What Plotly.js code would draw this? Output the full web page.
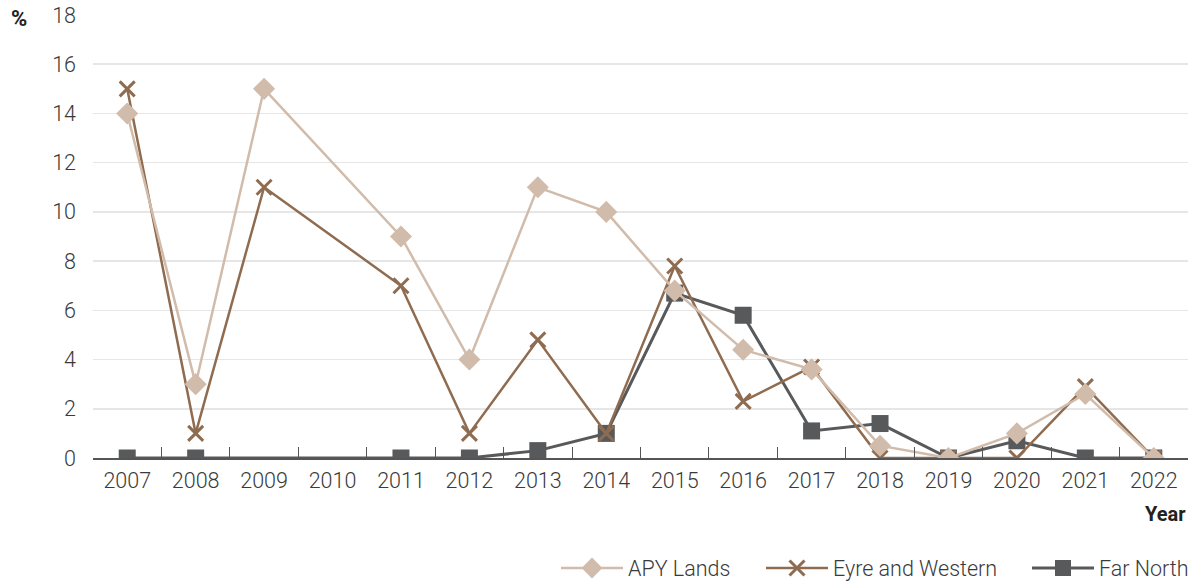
<!DOCTYPE html>
<html>
<head>
<meta charset="utf-8">
<script src="https://cdn.plot.ly/plotly-3.0.1.min.js"></script>
<style>html,body{margin:0;padding:0;background:#fff;}#chart{width:1195px;height:582px;}</style>
</head>
<body>
<div id="chart"></div>
<script>
var years = ["2007","2008","2009","2010","2011","2012","2013","2014","2015","2016","2017","2018","2019","2020","2021","2022"];
var apyLands = [14, 3, 15, null, 9, 4, 11, 10, 6.8, 4.4, 3.6, 0.5, 0, 1, 2.6, 0];
var eyreWestern = [15, 1, 11, null, 7, 1, 4.8, 1, 7.8, 2.3, 3.7, 0, 0, 0, 2.9, 0];
var farNorth = [0, 0, null, null, 0, 0, 0.3, 1, 6.7, 5.8, 1.1, 1.4, 0, 0.7, 0, 0];
var yTicks = [0, 2, 4, 6, 8, 10, 12, 14, 16, 18];
var seriesNames = ["APY Lands", "Eyre and Western", "Far North"];

var font = "Roboto, 'Liberation Sans', Arial, sans-serif";
var tf = {family: font, size: 21.5, color: "#3a3a3a", weight: 300};

var traces = [
  {name: seriesNames[2], legend: "legend3", x: years, y: farNorth, type: "scatter", mode: "lines+markers", connectgaps: true,
   line: {color: "#58595b", width: 3}, marker: {symbol: "square", size: 17, color: "#58595b"}},
  {name: seriesNames[1], legend: "legend2", x: years, y: eyreWestern, type: "scatter", mode: "lines+markers", connectgaps: true,
   line: {color: "#8f6c50", width: 2.5}, marker: {symbol: "x-thin", size: 15, color: "#8f6c50", line: {color: "#8f6c50", width: 3}}},
  {name: seriesNames[0], legend: "legend", x: years, y: apyLands, type: "scatter", mode: "lines+markers", connectgaps: true,
   line: {color: "#d1bcab", width: 2.5}, marker: {symbol: "diamond", size: 17, color: "#d1bcab"}}
];

function leg(xpx) {
  return {orientation: "h", xref: "container", yref: "container", x: xpx / 1195, xanchor: "left",
          y: 0.024, yanchor: "middle", font: tf, itemwidth: 62, bgcolor: "rgba(0,0,0,0)"};
}

var layout = {
  width: 1195, height: 582,
  margin: {l: 93, r: 7, t: 15, b: 124, autoexpand: false},
  paper_bgcolor: "#fff", plot_bgcolor: "#fff",
  font: tf,
  showlegend: true,
  legend: leg(556),
  legend2: leg(761),
  legend3: leg(1027),
  xaxis: {type: "category", categoryorder: "array", categoryarray: years, range: [-0.5, 15.5], automargin: false,
          showline: true, linecolor: "#555555", linewidth: 1.5, ticks: "inside", ticklen: 11, tickcolor: "#555555",
          tickson: "boundaries", showgrid: false, zeroline: false, tickfont: tf, ticklabelstandoff: 3},
  yaxis: {range: [0, 18], tickvals: yTicks, showgrid: true, gridcolor: "#e6e6e6", gridwidth: 1.5, automargin: false,
          showline: false, zeroline: false, ticks: "", ticklabelstandoff: 16, tickfont: tf},
  annotations: [
    {text: "<b>%</b>", xref: "paper", yref: "paper", x: -0.068, y: 0.992, xanchor: "center", yanchor: "middle",
     showarrow: false, font: {family: font, size: 22, color: "#222222"}},
    {text: "<b>Year</b>", xref: "paper", yref: "paper", x: 1, y: -0.126, xanchor: "right", yanchor: "middle",
     showarrow: false, font: {family: font, size: 20, color: "#222222"}}
  ]
};

Plotly.newPlot("chart", traces, layout, {displayModeBar: false, staticPlot: true});
</script>
</body>
</html>
